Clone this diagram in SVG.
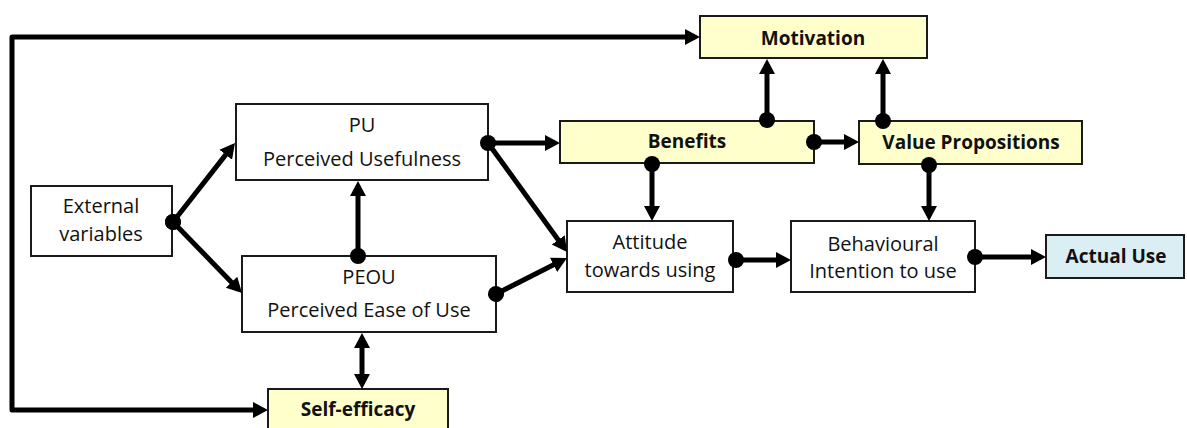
<svg xmlns="http://www.w3.org/2000/svg" width="1187" height="428" viewBox="0 0 1187 428">
  <style>
    .box { stroke: #1a1a1a; stroke-width: 2; }
    .plain { fill: #ffffff; }
    .yellow { fill: #ffffcc; }
    .blue { fill: #dbeef3; }
    .lbl { font-family: "Open Sans", "Liberation Sans", sans-serif; font-size: 20px; fill: #111111; text-anchor: middle; }
    .bold { font-weight: bold; font-size: 19px; }
    .conn { fill: none; stroke: #000000; stroke-width: 5; stroke-linejoin: round; }
  </style>
  <defs>
    <marker id="arrow" markerUnits="userSpaceOnUse" markerWidth="16" markerHeight="18" viewBox="0 -9 16 18" refX="10" refY="0" orient="auto-start-reverse">
      <path d="M0,-8 L15,0 L0,8 Z" fill="#000000"/>
    </marker>
    <marker id="dot" markerUnits="userSpaceOnUse" markerWidth="18" markerHeight="18" viewBox="-9 -9 18 18" refX="0" refY="0" orient="auto">
      <circle cx="0" cy="0" r="8" fill="#000000"/>
    </marker>
  </defs>

  <g id="external">
    <rect class="box plain" x="31" y="186" width="141" height="70"/>
    <text class="lbl" x="101" y="213">External</text>
    <text class="lbl" x="101" y="241">variables</text>
  </g>

  <g id="pu">
    <rect class="box plain" x="236" y="104" width="252" height="76"/>
    <text class="lbl" x="362" y="132">PU</text>
    <text class="lbl" x="362" y="166">Perceived Usefulness</text>
  </g>

  <g id="peou">
    <rect class="box plain" x="242" y="256" width="254" height="76"/>
    <text class="lbl" x="369" y="284">PEOU</text>
    <text class="lbl" x="369" y="317">Perceived Ease of Use</text>
  </g>

  <g id="self-efficacy">
    <rect class="box yellow" x="268" y="389" width="180" height="50"/>
    <text class="lbl bold" x="358" y="416">Self-efficacy</text>
  </g>

  <g id="motivation">
    <rect class="box yellow" x="700" y="16" width="227" height="42"/>
    <text class="lbl bold" x="813" y="45">Motivation</text>
  </g>

  <g id="benefits">
    <rect class="box yellow" x="560" y="121" width="254" height="42"/>
    <text class="lbl bold" x="687" y="148">Benefits</text>
  </g>

  <g id="value-propositions">
    <rect class="box yellow" x="859" y="121" width="223" height="43"/>
    <text class="lbl bold" x="971" y="149">Value Propositions</text>
  </g>

  <g id="attitude">
    <rect class="box plain" x="567" y="221" width="166" height="71"/>
    <text class="lbl" x="650" y="249">Attitude</text>
    <text class="lbl" x="650" y="277">towards using</text>
  </g>

  <g id="intention">
    <rect class="box plain" x="791" y="221" width="184" height="71"/>
    <text class="lbl" x="883" y="251">Behavioural</text>
    <text class="lbl" x="883" y="278">Intention to use</text>
  </g>

  <g id="actual-use">
    <rect class="box blue" x="1046" y="235" width="138" height="43"/>
    <text class="lbl bold" x="1116" y="263">Actual Use</text>
  </g>

  <!-- connectors, drawn over the boxes so the start dots sit on the edges -->
  <g id="connectors">
    <!-- outer loop: Self-efficacy <-> Motivation -->
    <path class="conn" d="M263,410 L12,410 L12,37 L695,37" marker-start="url(#arrow)" marker-end="url(#arrow)"/>
    <!-- External variables -> PU / PEOU -->
    <path class="conn" d="M173,222 L231.9,146.9" marker-start="url(#dot)" marker-end="url(#arrow)"/>
    <path class="conn" d="M173,222 L238.5,289.4" marker-start="url(#dot)" marker-end="url(#arrow)"/>
    <!-- PEOU -> PU -->
    <path class="conn" d="M358,256 L358,186" marker-start="url(#dot)" marker-end="url(#arrow)"/>
    <!-- PEOU <-> Self-efficacy -->
    <path class="conn" d="M362,338 L362,384" marker-start="url(#arrow)" marker-end="url(#arrow)"/>
    <!-- PU -> Benefits, PU -> Attitude -->
    <path class="conn" d="M488,143 L555,143" marker-start="url(#dot)" marker-end="url(#arrow)"/>
    <path class="conn" d="M488,143 L564.1,248" marker-end="url(#arrow)"/>
    <!-- PEOU -> Attitude -->
    <path class="conn" d="M496,294 L562.5,260.3" marker-start="url(#dot)" marker-end="url(#arrow)"/>
    <!-- Benefits -> Motivation, Value Propositions, Attitude -->
    <path class="conn" d="M767,120 L767,64" marker-start="url(#dot)" marker-end="url(#arrow)"/>
    <path class="conn" d="M814,142 L854,142" marker-start="url(#dot)" marker-end="url(#arrow)"/>
    <path class="conn" d="M652,164 L652,216" marker-start="url(#dot)" marker-end="url(#arrow)"/>
    <!-- Value Propositions -> Motivation, Behavioural Intention -->
    <path class="conn" d="M883,121 L883,64" marker-start="url(#dot)" marker-end="url(#arrow)"/>
    <path class="conn" d="M929,165 L929,216" marker-start="url(#dot)" marker-end="url(#arrow)"/>
    <!-- Attitude -> Behavioural Intention -> Actual Use -->
    <path class="conn" d="M736,260 L786,260" marker-start="url(#dot)" marker-end="url(#arrow)"/>
    <path class="conn" d="M975,257 L1041,257" marker-start="url(#dot)" marker-end="url(#arrow)"/>
  </g>
</svg>
